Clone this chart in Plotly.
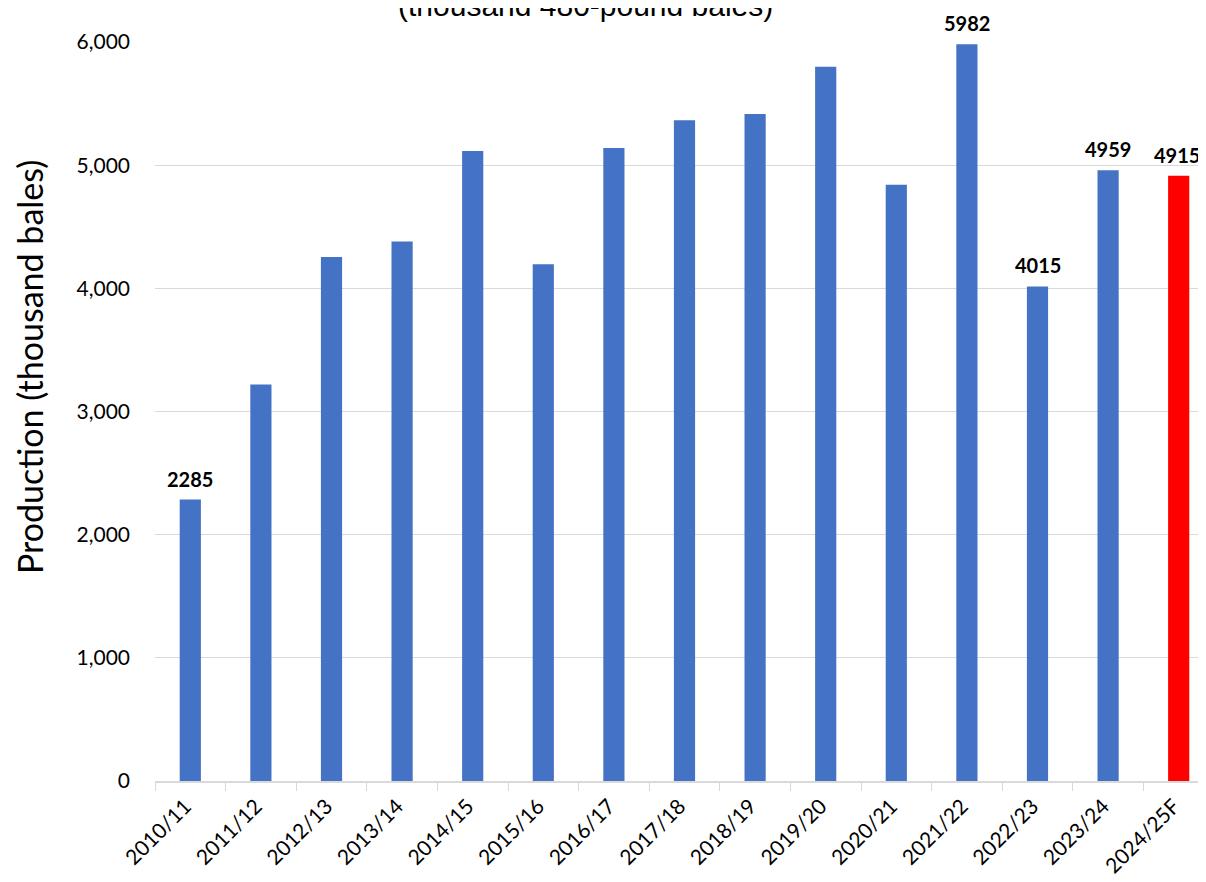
import plotly.graph_objects as go

categories = ["2010/11", "2011/12", "2012/13", "2013/14", "2014/15", "2015/16", "2016/17",
              "2017/18", "2018/19", "2019/20", "2020/21", "2021/22", "2022/23", "2023/24", "2024/25F"]
production = [2285, 3220, 4255, 4380, 5115, 4195, 5140, 5365, 5415, 5800, 4840, 5982, 4015, 4959, 4915]
labelled = ["2010/11", "2021/22", "2022/23", "2023/24", "2024/25F"]
bar_colors = ["#4472C4"] * 14 + ["#FF0000"]

# page has an 8px body margin; figure coordinates are offset accordingly
W, H = 1206, 882
ML, MR, MT, MB = 147, 0, 34, 109

fig = go.Figure()
fig.add_trace(go.Bar(
    x=categories, y=production,
    marker=dict(color=bar_colors, line=dict(width=0)),
    hoverinfo="x+y",
))

for c, v in zip(categories, production):
    if c in labelled:
        fig.add_annotation(
            x=c, y=v, xref="x", yref="y", text=str(v), showarrow=False,
            yanchor="bottom", xanchor="center", yshift=7,
            xshift=-2 if c == "2024/25F" else 0,
            font=dict(family="Lato", size=20, color="#000000", weight="bold"),
        )

fig.update_layout(
    width=W, height=H,
    margin=dict(l=ML, r=MR, t=MT, b=MB, autoexpand=False),
    plot_bgcolor="white", paper_bgcolor="white",
    bargap=0.70,
    showlegend=False,
    font=dict(family="Lato", color="#000000"),
)
fig.update_xaxes(
    range=[-0.5, 14.5],
    showline=True, linecolor="#D9D9D9", linewidth=1.5,
    ticks="outside", tickson="boundaries", ticklen=8, tickcolor="#D9D9D9",
    tickangle=-45, tickfont=dict(family="Lato", size=21, color="#000000"),
    ticklabelshift=-5, ticklabelstandoff=3,
    showgrid=False, automargin=False,
)
fig.update_yaxes(
    range=[0, 6000], dtick=1000, tickformat=",d",
    showgrid=True, gridcolor="#D9D9D9", gridwidth=1.2,
    zeroline=False, showline=False,
    tickfont=dict(family="Lato", size=21, color="#000000"),
    ticklabelstandoff=24, automargin=False,
)
plot_w = W - ML - MR
plot_h = H - MT - MB
fig.add_annotation(
    text="Production (thousand bales)", xref="paper", yref="paper",
    x=(22 - ML) / plot_w, y=(H - MB - 359) / plot_h,
    textangle=-90, showarrow=False, xanchor="center", yanchor="middle",
    font=dict(family="Lato", size=34, color="#000000"),
)
fig.add_annotation(
    text="(thousand 480-pound bales)", xref="paper", yref="paper",
    x=(577 - ML) / plot_w, y=1, yshift=18,
    showarrow=False, font=dict(family="Liberation Sans", size=30, color="#000000"),
    xanchor="center", yanchor="bottom",
)

fig.write_html("out.html")
